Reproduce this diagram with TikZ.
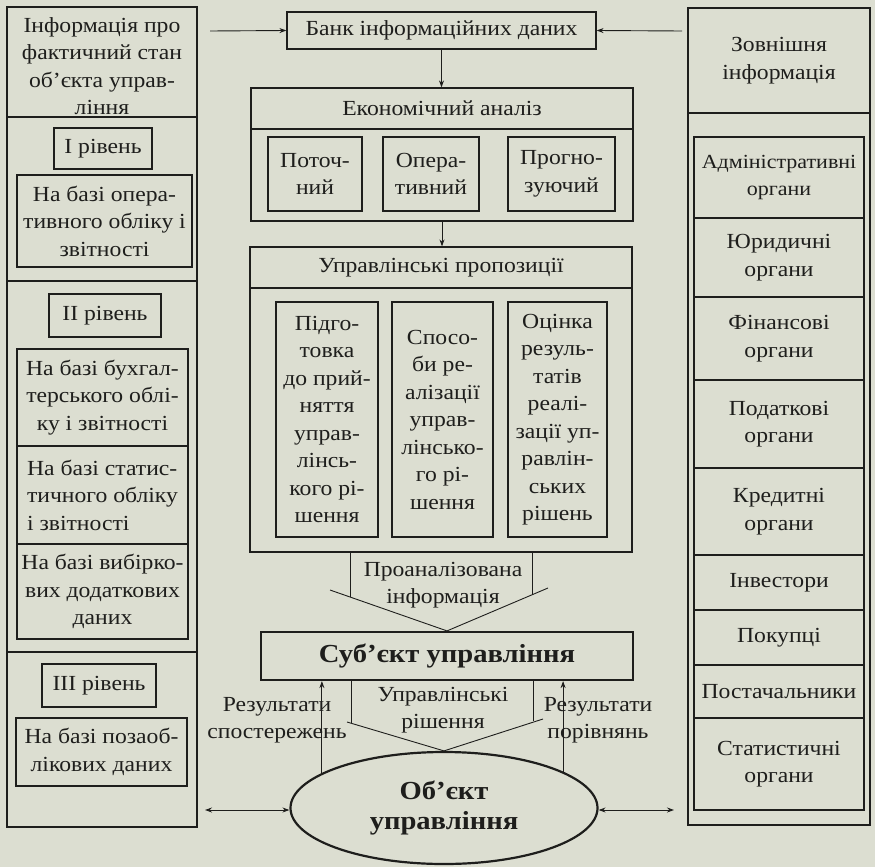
\documentclass[tikz,border=0pt]{standalone}
\usepackage{fontspec}
\setmainfont{Liberation Serif}[FakeStretch=1.1]
\usetikzlibrary{arrows.meta,shapes.geometric}
\definecolor{paper}{RGB}{220,222,209}
\definecolor{ink}{RGB}{30,30,28}
\newcommand\bx[7][]{\node[box,#1, minimum width={#5-#3}, minimum height={#6-#4}] (#2) at ({(#3+#5)/2},{(#4+#6)/2}) {#7};}
\tikzset{
  every node/.style={font=\fontsize{21.5}{27.5}\selectfont, text=ink},
  box/.style={draw=ink, line width=1.2pt, inner sep=0pt, align=center},
  thickbox/.style={line width=2.2pt},
  txt/.style={inner sep=0pt, align=center},
  bigbold/.style={font=\fontsize{26}{30}\selectfont\bfseries},
  arr/.style={draw=ink, line width=0.9pt, -{Stealth[length=7pt,width=5pt]}},
  dblarr/.style={draw=ink, line width=0.9pt, {Stealth[length=7pt,width=5pt]}-{Stealth[length=7pt,width=5pt]}},
  ln/.style={draw=ink, line width=0.9pt}
}
\begin{document}
\begin{tikzpicture}[x=1pt,y=-1pt]
\fill[paper] (0,0) rectangle (875,867);
\useasboundingbox (0,0) rectangle (875,867);
% ---------- left column ----------
\bx{lhead}{7}{7}{197}{117}{}
\node[txt] (lheadtext) at (102,66) {Інформація про\\фактичний стан\\об'єкта управ-\\ління};
\bx{lsecA}{7}{117}{197}{281}{}
\bx{lvlA}{54}{128}{152}{169}{І рівень}
\bx{lA}{17}{175}{192}{267}{На базі опера-\\тивного обліку і\\звітності}
\bx{lsecB}{7}{281}{197}{652}{}
\bx{lvlB}{49}{294}{161}{337}{ІІ рівень}
\bx{lBa}{17}{349}{188}{446}{На базі бухгал-\\терського облі-\\ку і звітності}
\bx[align=left]{lBb}{17}{446}{188}{544}{На базі статис-\\тичного обліку\\і звітності}
\bx{lBc}{17}{544}{188}{639}{На базі вибірко-\\вих додаткових\\даних}
\bx{lsecC}{7}{652}{197}{827}{}
\bx{lvlC}{42}{664}{156}{707}{ІІІ рівень}
\bx{lC}{16}{718}{187}{786}{На базі позаоб-\\лікових даних}
% ---------- centre ----------
\bx{bank}{287}{12}{596}{49}{Банк інформаційних даних}
\bx{econ}{251}{88}{633}{129}{Економічний аналіз}
\bx{econB}{251}{129}{633}{221}{}
\bx{cur}{268}{137}{362}{211}{Поточ-\\ний}
\bx{oper}{383}{137}{479}{211}{Опера-\\тивний}
\bx{prog}{508}{137}{615}{211}{Прогно-\\зуючий}
\bx{prop}{250}{247}{632}{288}{Управлінські пропозиції}
\bx{propB}{250}{288}{632}{552}{}
\bx{prep}{276}{302}{378}{537}{Підго-\\товка\\до прий-\\няття\\управ-\\лінсь-\\кого рі-\\шення}
\bx{ways}{392}{302}{493}{537}{Спосо-\\би ре-\\алізації\\управ-\\лінсько-\\го рі-\\шення}
\bx{eval}{508}{302}{607}{537}{Оцінка\\резуль-\\татів\\реалі-\\зації уп-\\равлін-\\ських\\рішень}
\bx[thickbox,bigbold]{subj}{261}{632}{633}{680}{Суб'єкт управління}
\node[draw=ink, thickbox, ellipse, minimum width=307, minimum height=112, inner sep=0pt, align=center, bigbold] (obj) at (444,808) {Об'єкт\\управління};
% ---------- right column ----------
\bx{rhead}{688}{8}{870}{113}{Зовнішня\\інформація}
\bx{rbody}{688}{113}{870}{825}{}
\bx[line width=1.4pt, font=\fontsize{20}{27.5}\selectfont]{rA}{694}{137}{864}{218}{Адміністративні\\органи}
\bx[line width=1.4pt]{rB}{694}{218}{864}{297}{Юридичні\\органи}
\bx[line width=1.4pt]{rC}{694}{297}{864}{380}{Фінансові\\органи}
\bx[line width=1.4pt]{rD}{694}{380}{864}{468}{Податкові\\органи}
\bx[line width=1.4pt]{rE}{694}{468}{864}{555}{Кредитні\\органи}
\bx[line width=1.4pt]{rF}{694}{555}{864}{610}{Інвестори}
\bx[line width=1.4pt]{rG}{694}{610}{864}{665}{Покупці}
\bx[line width=1.4pt]{rH}{694}{665}{864}{718}{Постачальники}
\bx[line width=1.4pt]{rI}{694}{718}{864}{810}{Статистичні\\органи}
% ---------- connectors ----------
\coordinate (tl) at (210,31);
\coordinate (tr) at (682,31);
\draw[arr] (tl) -- (bank.west);
\draw[arr] (tr) -- (bank.east);
\draw[arr] (bank.south) -- (bank.south |- econ.north);
\draw[arr] (econB.south) -- (econB.south |- prop.north);
% funnel: analysed information
\coordinate (fL) at (330,590);
\coordinate (fR) at (548,588);
\draw[ln] (propB.south -| 350,0) -- (350,597);
\draw[ln] (propB.south -| 532,0) -- (532,594);
\draw[ln] (fL) -- (subj.north) -- (fR);
\node[txt] (analysed) at (443,585) {Проаналізована\\інформація};
% funnel: management decisions
\coordinate (dL) at (347,722);
\coordinate (dR) at (543,719);
\draw[ln] (subj.south -| 351,0) -- (351,723);
\draw[ln] (subj.south -| 533,0) -- (533,721);
\draw[ln] (dL) -- (obj.north) -- (dR);
\node[txt] (decis) at (443,710) {Управлінські\\рішення};
% feedback arrows
\draw[arr] (obj.164) -- (obj.164 |- subj.south);
\draw[arr] (obj.17) -- (obj.17 |- subj.south);
\node[txt] (resobs) at (277,720) {Результати\\спостережень};
\node[txt] (rescmp) at (598,720) {Результати\\порівнянь};
% bottom double arrows
\coordinate (bl) at (205,810);
\coordinate (br) at (674,810);
\draw[dblarr] (bl) -- (obj.west |- bl);
\draw[dblarr] (obj.east |- br) -- (br);
\end{tikzpicture}
\end{document}
